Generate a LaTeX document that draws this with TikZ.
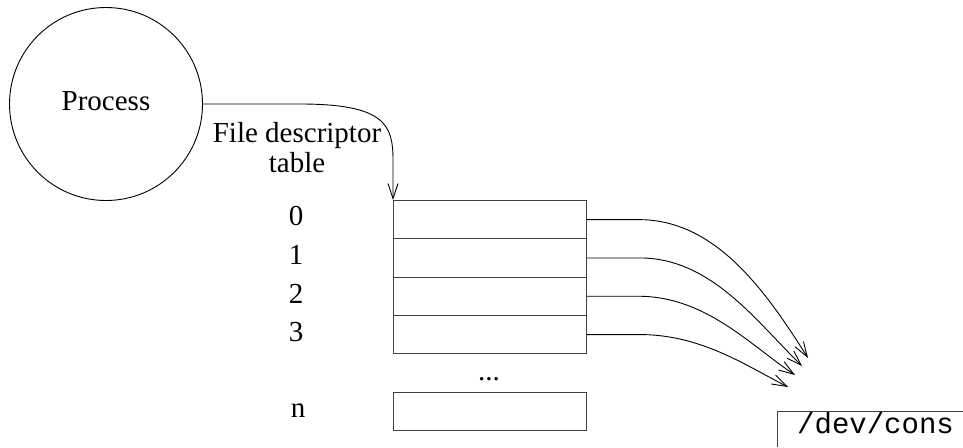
\documentclass[tikz,border=0pt]{standalone}
\usepackage{fontspec}
\setmainfont{Liberation Serif}
\setmonofont{Liberation Mono}
\usetikzlibrary{arrows.meta}
\tikzset{
  ln/.style={line width=0.9pt, draw=black},
  rowbox/.style={draw=black!75, line width=1pt, rectangle, minimum width=193pt, minimum height=38.3pt, inner sep=0pt, anchor=north west},
  lbl/.style={font=\fontsize{29}{30}\selectfont, inner sep=0pt},
  arr/.style={ln, -{Straight Barb[length=15pt,width=10pt,line width=0.9pt]}}
}
\begin{document}
\begin{tikzpicture}[x=1pt,y=-1pt]
\useasboundingbox (0,0) rectangle (963,447);
% process
\node[draw, ln, circle, minimum size=193pt, inner sep=0pt] (proc) at (106,104) {};
\node[lbl] (proclbl) at (106,101) {Process};
% fd table label
\node[lbl, align=center, anchor=base] (fdl) at (297,172) {File descriptor\\table};
% rows
\node[rowbox] (r0) at (393,200) {};
\node[rowbox] (r1) at (393,238.3) {};
\node[rowbox] (r2) at (393,276.6) {};
\node[rowbox] (r3) at (393,314.9) {};
\node[rowbox, minimum height=38pt] (rn) at (393,392) {};
% index labels
\node[lbl, anchor=base] (n0) at (296,225) {0};
\node[lbl, anchor=base] (n1) at (296,264) {1};
\node[lbl, anchor=base] (n2) at (296,303) {2};
\node[lbl, anchor=base] (n3) at (296,341) {3};
\node[lbl, anchor=base] (nn) at (298,417) {n};
\node[lbl, anchor=base] (dots) at (489,380) {...};
% arrow from process to table
\draw[arr] (proc.east) -- (300,104) .. controls (385,104) and (393,125) .. (393,160) -- (r0.north west);
% arrows to /dev/cons
\coordinate (t0) at (808,358);
\coordinate (t1) at (802,366);
\coordinate (t2) at (795,375);
\coordinate (t3) at (788,387);
\draw[arr] (r0.east) -- ++(51,0) .. controls (715,219) and (765,290) .. (t0);
\draw[arr] (r1.east) -- ++(51,0) .. controls (710,257) and (755,320) .. (t1);
\draw[arr] (r2.east) -- ++(51,0) .. controls (705,296) and (750,345) .. (t2);
\draw[arr] (r3.east) -- ++(51,0) .. controls (700,334) and (745,365) .. (t3);
% /dev/cons
\node[lbl, font=\ttfamily\fontsize{29}{33}\selectfont, anchor=base west] (dev) at (797,433) {/dev/cons};
\draw[draw=black!75, line width=1pt] (777,447) -- (777,411) -- (963,411);
\end{tikzpicture}
\end{document}
